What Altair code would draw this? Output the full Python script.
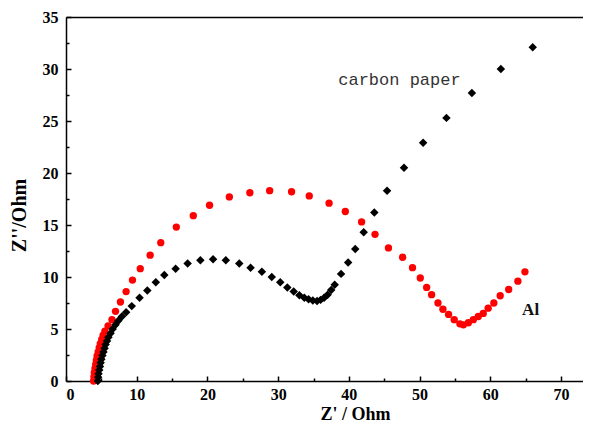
import altair as alt
import pandas as pd

# ---- data ----
al_x = [3.9, 3.95, 4.0, 4.1, 4.2, 4.3, 4.4, 4.55, 4.7, 4.85, 5.05, 5.25, 5.5, 5.95, 6.5,
        7.0, 7.7, 8.5, 9.4, 10.5, 11.9, 13.4, 15.6, 18.0, 20.3, 23.1, 26.0, 28.8, 31.9, 34.4,
        37.2, 39.5, 41.8, 43.7, 45.6, 47.6, 49.0, 50.1, 51.0, 51.7, 52.6, 53.3, 54.1, 54.9, 55.7,
        56.2, 56.9, 57.6, 58.3, 59.0, 59.7, 60.5, 61.4, 62.6, 63.9, 64.9]
al_y = [0, 0.4, 0.8, 1.2, 1.6, 2.0, 2.4, 2.8, 3.2, 3.6, 4.0, 4.4, 4.8, 5.3, 5.9,
        6.7, 7.6, 8.6, 9.7, 10.8, 12.1, 13.3, 14.8, 15.9, 16.9, 17.7, 18.1, 18.3, 18.2, 17.8,
        17.1, 16.3, 15.3, 14.1, 12.8, 11.9, 10.9, 9.9, 9.0, 8.3, 7.5, 6.9, 6.4, 5.9, 5.5,
        5.4, 5.6, 5.9, 6.2, 6.5, 7.0, 7.5, 8.2, 8.8, 9.6, 10.5]

cp_x = [4.5, 4.55, 4.6, 4.7, 4.8, 4.9, 5.0, 5.15, 5.3, 5.45, 5.6, 5.8, 6.0, 6.3, 6.6,
        7.0, 7.4, 7.9, 8.5, 9.3, 10.4, 11.5, 12.7, 13.9, 15.5, 17.2, 19.0, 20.8, 22.6, 24.5,
        26.1, 27.7, 29.1, 30.3, 31.3, 32.2, 33.0, 33.7, 34.3, 34.9, 35.5, 36.0, 36.5, 37.0, 37.5,
        38.0, 38.9, 39.9, 40.9, 42.1, 43.6, 45.4, 47.8, 50.5, 53.8, 57.4, 61.5, 66.0]
cp_y = [0, 0.35, 0.7, 1.05, 1.4, 1.75, 2.1, 2.45, 2.8, 3.15, 3.5, 3.85, 4.2, 4.6, 5.0,
        5.4, 5.8, 6.2, 6.6, 7.2, 8.0, 8.7, 9.5, 10.2, 10.8, 11.3, 11.6, 11.7, 11.6, 11.3,
        10.9, 10.5, 10.0, 9.5, 9.0, 8.6, 8.25, 8.0, 7.85, 7.75, 7.7, 7.8, 8.0, 8.3, 8.75,
        9.25, 10.3, 11.4, 12.7, 14.3, 16.2, 18.3, 20.5, 22.9, 25.3, 27.7, 30.0, 32.1]

x_major = [0, 10, 20, 30, 40, 50, 60, 70]
x_minor = [5, 15, 25, 35, 45, 55, 65]
y_major = [0, 5, 10, 15, 20, 25, 30, 35]
y_minor = [2.5, 7.5, 12.5, 17.5, 22.5, 27.5, 32.5]

cp_label = ["carbon paper"]
cp_label_x = [38.5]
cp_label_y = [28.9]
al_label = ["Al"]
al_label_x = [64.5]
al_label_y = [6.8]

x_title = "Z' / Ohm"
y_title = "Z''/Ohm"

# ---- chart ----
W, H = 517, 364
SERIF = "Liberation Serif"
xs = alt.Scale(domain=[0, 73.11], nice=False, zero=False)
ys = alt.Scale(domain=[0, 35], nice=False, zero=False)

al_df = pd.DataFrame({"x": al_x, "y": al_y})
cp_df = pd.DataFrame({"x": cp_x, "y": cp_y})
cpl_df = pd.DataFrame({"x": cp_label_x, "y": cp_label_y, "t": cp_label})
all_df = pd.DataFrame({"x": al_label_x, "y": al_label_y, "t": al_label})

red = alt.Chart(al_df).mark_point(
    shape="circle", filled=True, size=54, color="#ff0000", opacity=1, strokeWidth=0
).encode(
    x=alt.X("x:Q", scale=xs, axis=alt.Axis(
        orient="bottom", values=x_major, format="d", ticks=False, tickSize=0,
        labelPadding=5, labelFont=SERIF, labelFontWeight="bold", labelFontSize=16,
        labelColor="black", domainColor="black", domainWidth=1.5, grid=False,
        title=x_title, titleFont=SERIF, titleFontWeight="bold", titleFontSize=18,
        titleColor="black", titleX=289, titleY=38, titleBaseline="alphabetic",
        titleAlign="center")),
    y=alt.Y("y:Q", scale=ys, axis=alt.Axis(
        orient="left", values=y_major, format="d", ticks=False, tickSize=0,
        labelPadding=8, labelFont=SERIF, labelFontWeight="bold", labelFontSize=16,
        labelColor="black", domainColor="black", domainWidth=1.5, grid=False,
        title=y_title, titleFont=SERIF, titleFontWeight="bold", titleFontSize=20,
        titleColor="black", titleAngle=270, titleX=-47, titleY=198,
        titleBaseline="middle", titleAlign="center")),
)

black = alt.Chart(cp_df).mark_point(
    shape="diamond", filled=True, size=72, color="#000000", opacity=1, strokeWidth=0
).encode(
    x=alt.X("x:Q", scale=xs, axis=alt.Axis(
        orient="top", offset=-H, values=x_major, labels=False, domain=False,
        tickSize=5, tickWidth=1.5, tickColor="black", grid=False, title=None)),
    y=alt.Y("y:Q", scale=ys, axis=alt.Axis(
        orient="right", offset=-W, values=y_major, labels=False, domain=False,
        tickSize=5, tickWidth=1.5, tickColor="black", grid=False, title=None)),
)

cp_text = alt.Chart(cpl_df).mark_text(
    align="left", baseline="middle", font="Liberation Mono", fontSize=17, color="#333333"
).encode(
    x=alt.X("x:Q", scale=xs, axis=alt.Axis(
        orient="top", offset=-H, values=x_minor, labels=False, domain=False,
        tickSize=3, tickWidth=1.5, tickColor="black", grid=False, title=None)),
    y=alt.Y("y:Q", scale=ys, axis=alt.Axis(
        orient="right", offset=-W, values=y_minor, labels=False, domain=False,
        tickSize=3, tickWidth=1.5, tickColor="black", grid=False, title=None)),
    text="t:N",
)

al_text = alt.Chart(all_df).mark_text(
    align="left", baseline="middle", font=SERIF, fontWeight="bold", fontSize=17, color="#111111"
).encode(
    x=alt.X("x:Q", scale=xs, axis=alt.Axis(
        orient="top", offset=0, labels=False, ticks=False, domain=True,
        domainColor="black", domainWidth=1.5, grid=False, title=None)),
    y=alt.Y("y:Q", scale=ys, axis=None),
    text="t:N",
)

chart = alt.layer(red, black, cp_text, al_text).resolve_axis(
    x="independent", y="independent"
).properties(
    width=W, height=H,
    autosize=alt.AutoSizeParams(type="none"),
    padding={"left": 58, "top": 9, "right": 0, "bottom": 41},
    background="white",
).configure_view(strokeWidth=0)

chart.save("out.html", embed_options={"renderer": "svg", "actions": False})
